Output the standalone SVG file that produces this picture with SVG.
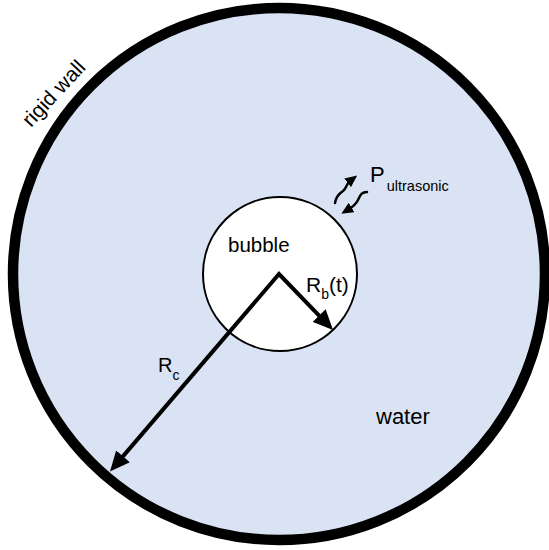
<svg xmlns="http://www.w3.org/2000/svg" width="549" height="550" viewBox="0 0 549 550">
  <style>
    .lbl { font-family: "Liberation Sans", Arial, sans-serif; fill: #000; }
    .conn { fill: none; stroke: #000; stroke-width: 4; stroke-linejoin: miter; stroke-miterlimit: 10; }
    .wave { fill: none; stroke: #000; stroke-width: 2.5; stroke-linecap: round; }
  </style>
  <defs>
    <marker id="bigHead" viewBox="0 0 20 18" markerWidth="20" markerHeight="18" refX="10" refY="9" orient="auto-start-reverse" markerUnits="userSpaceOnUse">
      <path d="M0,0 L20,9 L0,18 z" fill="#000"/>
    </marker>
    <marker id="smallHead" viewBox="0 0 12 11" markerWidth="12" markerHeight="11" refX="3" refY="5.5" orient="auto" markerUnits="userSpaceOnUse">
      <path d="M0,0 L12,5.5 L0,11 z" fill="#000"/>
    </marker>
  </defs>

  <rect width="549" height="550" fill="#fff"/>

  <g id="wall">
    <circle cx="279" cy="274" r="266" fill="#dae3f3" stroke="#000" stroke-width="10.5"/>
    <text class="lbl" font-size="21" transform="translate(31,128) rotate(-47)">rigid wall</text>
  </g>

  <g id="water">
    <text class="lbl" font-size="22" x="376" y="424">water</text>
  </g>

  <g id="bubble">
    <circle cx="280" cy="274" r="77" fill="#fff" stroke="#000" stroke-width="2"/>
    <text class="lbl" font-size="20.5" x="228" y="252">bubble</text>
  </g>

  <g id="ultrasound">
    <text class="lbl" x="370" y="182"><tspan font-size="22">P</tspan><tspan font-size="14.5" dy="9" dx="2">ultrasonic</tspan></text>
  </g>

  <g id="connectors">
    <path class="conn" d="M116.5,463.9 L279,274 L326.1,322.8" marker-start="url(#bigHead)" marker-end="url(#bigHead)"/>
    <path class="wave" d="M335,203 C336,196 340,193 343,191 C347,188 346,184 350,181" marker-end="url(#smallHead)"/>
    <path class="wave" d="M367,192 C361,192 360,196 358,200 C356,204 354,206 349,209" marker-end="url(#smallHead)"/>
    <text class="lbl" x="306" y="292"><tspan font-size="21">R</tspan><tspan font-size="14" dy="7">b</tspan><tspan font-size="21" dy="-7">(t)</tspan></text>
    <text class="lbl" x="158" y="372"><tspan font-size="20">R</tspan><tspan font-size="14" dy="8">c</tspan></text>
  </g>
</svg>
